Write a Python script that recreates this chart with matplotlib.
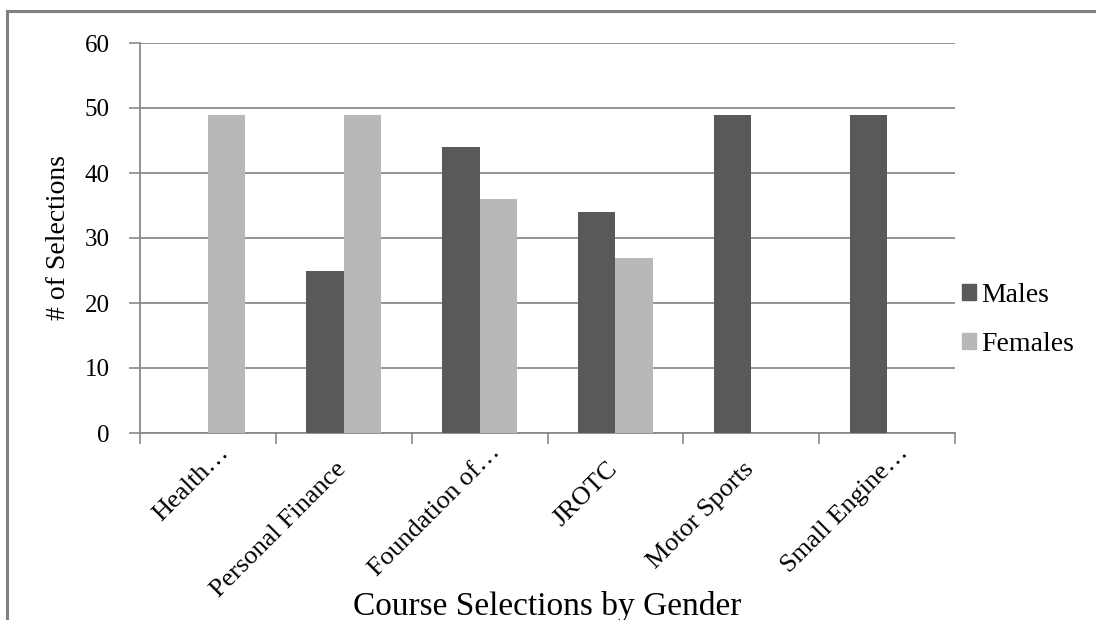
import numpy as np
import matplotlib
matplotlib.use('Agg')
import matplotlib.pyplot as plt
from matplotlib.lines import Line2D
from matplotlib.patches import Patch
from matplotlib.transforms import blended_transform_factory, offset_copy

categories = ['Health…', 'Personal Finance', 'Foundation of…', 'JROTC', 'Motor Sports', 'Small Engine…']
males = [0, 25, 44, 34, 49, 49]
females = [49, 49, 36, 27, 0, 0]
y_ticks = [0, 10, 20, 30, 40, 50, 60]

male_color = '#595959'
female_color = '#b8b8b8'
line_color = '#8a8a8a'

plt.rcParams['font.family'] = ['Liberation Serif', 'DejaVu Serif']

fig = plt.figure(figsize=(10.96, 6.20), dpi=100)
ax = fig.add_axes([140 / 1096, 1 - 433 / 620, (955 - 140) / 1096, (433 - 43) / 620])

x = np.arange(len(categories))
w = 0.275
# males on the left of each category center, females on the right
ax.bar(x, males, width=-w, align='edge', color=male_color, label='Males', zorder=3)
ax.bar(x, females, width=w, align='edge', color=female_color, label='Females', zorder=3)

ax.set_xlim(-0.5, len(categories) - 0.5)
ax.set_ylim(0, 60)
ax.set_yticks(y_ticks)
ax.yaxis.grid(True, color=line_color, lw=1.3, zorder=0)

ax.set_xticks(np.arange(len(categories) + 1) - 0.5)
ax.set_xticklabels([])
ax.tick_params(axis='x', which='major', length=8, color=line_color, width=1.2)
ax.tick_params(axis='y', length=8, color=line_color, width=1.2, labelsize=18, pad=14)

# rotated category labels (Excel pushes truncated labels further along)
base = blended_transform_factory(ax.transData, ax.transAxes)
for xi, lab in zip(x, categories):
    if lab.endswith('…'):
        dx, dy = 7, -6
    else:
        dx, dy = -6.5, -18
    tr = offset_copy(base, fig=fig, x=dx, y=dy, units='points')
    ax.text(xi, 0, lab, transform=tr, rotation=45, ha='right', va='top',
            rotation_mode='anchor', fontsize=19, clip_on=False)

for s in ['top', 'right']:
    ax.spines[s].set_visible(False)
for s in ['left', 'bottom']:
    ax.spines[s].set_color(line_color)
    ax.spines[s].set_linewidth(1.3)

ax.set_ylabel('# of Selections', fontsize=20, labelpad=10)
fig.text(547 / 1096, 1 - 606 / 620, 'Course Selections by Gender', fontsize=24,
         ha='center', va='center')

handles = [Patch(color=male_color), Patch(color=female_color)]
fig.legend(handles, ['Males', 'Females'], loc='center left',
           bbox_to_anchor=(951 / 1096, 1 - 320 / 620), frameon=False,
           fontsize=20, handlelength=0.5, handleheight=0.5,
           handletextpad=0.2, labelspacing=0.85, borderaxespad=0)

# outer frame (only top and left edges visible)
fig.add_artist(Line2D([7 / 1096, 1], [1 - 11 / 620, 1 - 11 / 620], color='#808080', lw=2.2))
fig.add_artist(Line2D([7 / 1096, 7 / 1096], [0, 1 - 11 / 620], color='#808080', lw=2.2))

fig.savefig('out.png', dpi=100)
